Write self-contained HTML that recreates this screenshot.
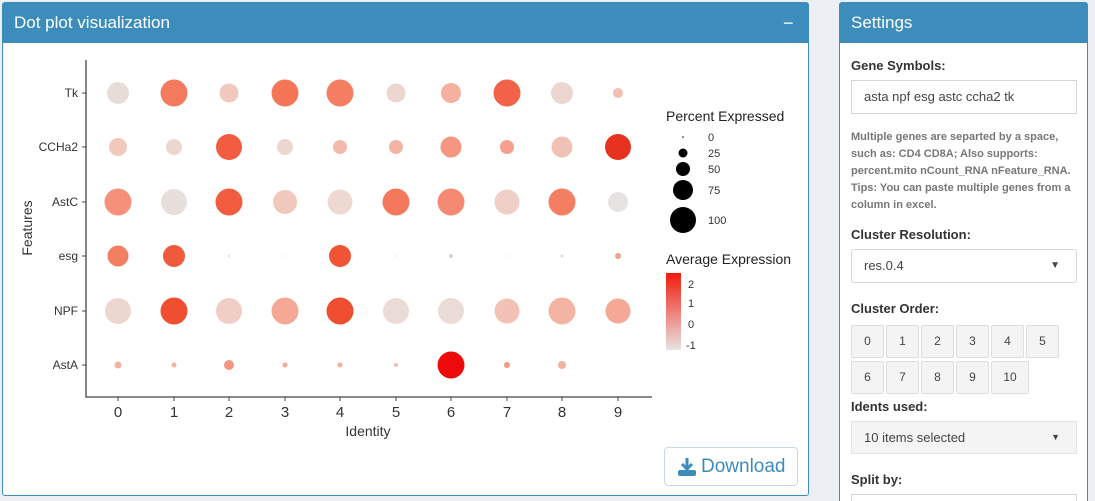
<!DOCTYPE html>
<html style="overflow:hidden;height:501px"><head><meta charset="utf-8"><style>
body{margin:0;width:1095px;height:501px;background:#ecf0f5;font-family:"Liberation Sans",sans-serif;position:relative;overflow:hidden}
.box{position:absolute;background:#fff;border:1px solid #3c8dbc;border-radius:3px;box-sizing:border-box}
.hd{background:#3c8dbc;color:#fff;height:40px;font-size:17px;line-height:40px;padding-left:11px}
.lab{position:absolute;font-weight:bold;font-size:13px;color:#333;left:11px}
.inp{position:absolute;left:11px;width:226px;border:1px solid #d2d6de;box-sizing:border-box;font-size:13px;color:#444;padding-left:12px}
.btn{position:absolute;width:33px;height:33px;background:#f4f4f4;border:1px solid #ddd;box-sizing:border-box;font-size:12px;color:#444;text-align:center;line-height:31px;border-radius:2px}
</style></head><body>
<div class="box" style="left:2px;top:2px;width:807px;height:494px">
<div class="hd">Dot plot visualization<span style="position:absolute;left:780px;top:0;font-size:18px">−</span></div>
<div style="position:absolute;left:661px;top:444px;width:134px;height:39px;border:1px solid #c8d8e8;border-radius:4px;box-sizing:border-box;color:#3c8dbc;font-size:19px;line-height:37px;padding-left:36px">Download
<svg style="position:absolute;left:12px;top:9px" width="20" height="20" viewBox="0 0 20 20"><path d="M10 1v10M5 7l5 5 5-5" stroke="#3c8dbc" stroke-width="3" fill="none"/><rect x="1" y="13" width="18" height="6" rx="2" fill="#3c8dbc"/></svg></div>
</div>
<svg style="position:absolute;left:0;top:0" width="810" height="500" font-family="Liberation Sans,sans-serif">
<g stroke="#444" stroke-width="1.3" fill="none"><path d="M86 60V397H652"/></g>
<g id="dots"></g>
<g font-size="12" fill="#333" text-anchor="end">
<text x="78" y="97">Tk</text><text x="78" y="151">CCHa2</text><text x="78" y="206">AstC</text><text x="78" y="260">esg</text><text x="78" y="315">NPF</text><text x="78" y="369">AstA</text></g>
<g stroke="#444"><path d="M82 93h4M82 147h4M82 202h4M82 256h4M82 311h4M82 365h4M118 397v4M174 397v4M229 397v4M285 397v4M340 397v4M396 397v4M451 397v4M507 397v4M562 397v4M618 397v4"/></g>
<g font-size="15" fill="#333" text-anchor="middle">
<text x="118" y="417">0</text><text x="174" y="417">1</text><text x="229" y="417">2</text><text x="285" y="417">3</text><text x="340" y="417">4</text><text x="396" y="417">5</text><text x="451" y="417">6</text><text x="507" y="417">7</text><text x="562" y="417">8</text><text x="618" y="417">9</text>
<text x="368" y="436" font-size="14">Identity</text>
<text transform="translate(32 228) rotate(-90)" font-size="14">Features</text></g>
<g font-size="14" fill="#222"><text x="666" y="121">Percent Expressed</text><text x="666" y="264">Average Expression</text></g>
<g fill="#000"><circle cx="683" cy="137" r="0.8"/><circle cx="683" cy="153" r="4.5"/><circle cx="683" cy="169" r="7"/><circle cx="683" cy="190" r="10"/><circle cx="683" cy="220" r="13"/></g>
<g font-size="11" fill="#333"><text x="708" y="141">0</text><text x="708" y="157">25</text><text x="708" y="173">50</text><text x="708" y="194">75</text><text x="708" y="224">100</text>
<text x="688" y="288">2</text><text x="688" y="307">1</text><text x="688" y="328">0</text><text x="686" y="349">-1</text></g>
<defs><linearGradient id="g" x1="0" y1="0" x2="0" y2="1"><stop offset="0" stop-color="#f21a0c"/><stop offset="1" stop-color="#e8e4e4"/></linearGradient></defs>
<rect x="666" y="273" width="15" height="77" fill="url(#g)"/>
</svg>
<div class="box" style="left:839px;top:2px;width:249px;height:510px">
<div class="hd">Settings</div>
<div class="lab" style="top:55px">Gene Symbols:</div>
<div class="inp" style="top:77px;height:34px;line-height:32px">asta npf esg astc ccha2 tk</div>
<div style="position:absolute;left:11px;top:126px;width:232px;font-size:11px;font-weight:bold;color:#777;line-height:17px">Multiple genes are separted by a space, such as: CD4 CD8A; Also supports: percent.mito nCount_RNA nFeature_RNA. Tips: You can paste multiple genes from a column in excel.</div>
<div class="lab" style="top:224px">Cluster Resolution:</div>
<div class="inp" style="top:246px;height:34px;line-height:32px;border-radius:3px">res.0.4<span style="position:absolute;right:16px;top:0;font-size:10px">▼</span></div>
<div class="lab" style="top:298px">Cluster Order:</div>
<div class="btn" style="left:11px;top:322px">0</div><div class="btn" style="left:46px;top:322px">1</div><div class="btn" style="left:81px;top:322px">2</div><div class="btn" style="left:116px;top:322px">3</div><div class="btn" style="left:151px;top:322px">4</div><div class="btn" style="left:186px;top:322px">5</div>
<div class="btn" style="left:11px;top:358px">6</div><div class="btn" style="left:46px;top:358px">7</div><div class="btn" style="left:81px;top:358px">8</div><div class="btn" style="left:116px;top:358px">9</div><div class="btn" style="left:151px;top:358px;width:38px">10</div>
<div class="lab" style="top:396px">Idents used:</div>
<div class="inp" style="top:418px;height:33px;line-height:31px;background:#f4f4f4;border-color:#e4e4e4">10 items selected<span style="position:absolute;right:16px;top:0;font-size:9px">▼</span></div>
<div class="lab" style="top:469px">Split by:</div>
<div class="inp" style="top:491px;height:30px"></div>
</div>
<script>
var xs=[118,174,229,285,340,396,451,507,562,618],ys=[93,147,202,256,311,365];
var D=[
[[11,"#e8dcd9"],[13.5,"#f47a5e"],[9.5,"#f0c8be"],[13.5,"#f47656"],[13.5,"#f47e62"],[9.5,"#ecd6d0"],[10,"#f4b0a0"],[13.5,"#f26248"],[11,"#ecd6d0"],[5,"#f0c0b4"]],
[[9,"#f0c8bc"],[8,"#ecd6d0"],[13,"#f25d42"],[8,"#ecd6d0"],[7,"#f2baad"],[7,"#f4b4a4"],[10.5,"#f59680"],[7,"#f5a08c"],[10.5,"#f0c2b6"],[13,"#e83220"]],
[[13.5,"#f6907a"],[13,"#e8dedb"],[13.5,"#f25d42"],[12,"#f0c8bc"],[12.5,"#eed8d2"],[13.5,"#f4795c"],[13.5,"#f58a72"],[12.5,"#f0cfc7"],[13.5,"#f47e62"],[10,"#e6e3e3"]],
[[10.5,"#f47e62"],[11,"#f05a3c"],[1.5,"#e8e4e4"],[1,"#eee"],[11,"#f05434"],[1,"#eee"],[2,"#ddd0d0"],[1,"#eee"],[1.5,"#ddd"],[3,"#f4a08c"]],
[[13,"#ecd6d0"],[13.5,"#f04e30"],[13,"#f0cec6"],[13.5,"#f6a896"],[13.5,"#f04e30"],[13,"#ecdcd7"],[13,"#ecdcd7"],[12.5,"#f2c2b6"],[13.5,"#f4b4a4"],[12.5,"#f5a896"]],
[[3.5,"#f4b0a0"],[2.5,"#f4b4a6"],[5,"#f59680"],[2.5,"#f4a898"],[2.5,"#f4b0a0"],[2,"#f4bcb0"],[13.5,"#ee0a0a"],[3,"#f59a86"],[4,"#f4b0a0"],[0.6,"#eee"]]];
var s="";D.forEach(function(r,i){r.forEach(function(d,j){s+='<circle cx="'+xs[j]+'" cy="'+ys[i]+'" r="'+d[0]+'" fill="'+d[1]+'"/>';});});
document.getElementById("dots").innerHTML=s;
</script>
</body></html>
